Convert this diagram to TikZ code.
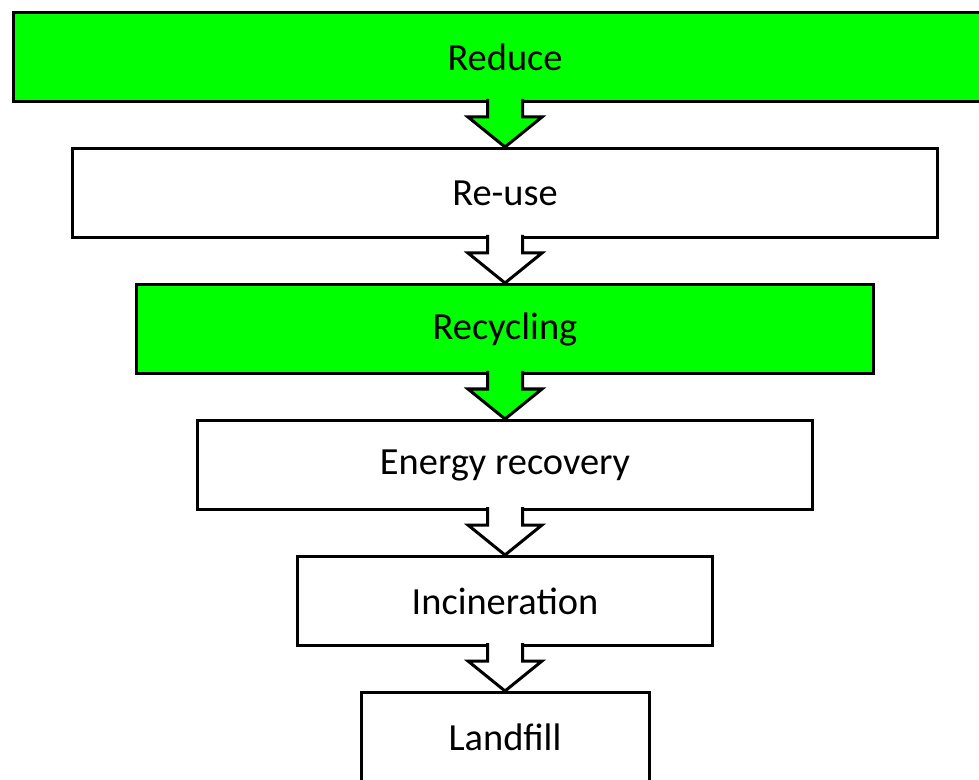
\documentclass[tikz,border=0pt]{standalone}
\usepackage{fontspec}
\setmainfont{Carlito}
\usepackage{xcolor}
\usepackage{tikz}
\usetikzlibrary{positioning,calc}
\definecolor{c1}{HTML}{00FF00}

\begin{document}
\begin{tikzpicture}[x=0.5pt, y=-0.5pt,
        level/.style={draw, line width=1.5pt, minimum height=44.5pt, inner sep=0pt, font=\fontsize{19.2}{23}\selectfont},
        blockarrow/.style={draw, line width=1.5pt, line join=miter},
        node distance=22pt]
            \useasboundingbox (0, 0) rectangle (979, 780);
            \node[level, fill=c1, minimum width=492pt] (reduce) at (505, 57) {Reduce};
            \node[level, fill=white, minimum width=432.5pt, below=of reduce] (reuse) {Re-use};
            \node[level, fill=c1, minimum width=368.5pt, below=of reuse] (recycling) {Recycling};
            \node[level, fill=white, minimum width=307.5pt, below=of recycling] (energy) {Energy recovery};
            \node[level, fill=white, minimum width=207.5pt, below=of energy] (incineration) {Incineration};
            \node[level, fill=white, minimum width=144pt, below=of incineration] (landfill) {Landfill};
            \foreach \from/\to/\col in {reduce/reuse/c1, reuse/recycling/white, recycling/energy/c1, energy/incineration/white, incineration/landfill/white}
                \draw[blockarrow, fill=\col] ($(\from.south)+(-17.5,-4)$) -- ($(\from.south)+(-17.5,14)$) -- ($(\from.south)+(-37,14)$)
                    -- (\to.north) -- ($(\from.south)+(37,14)$) -- ($(\from.south)+(17.5,14)$) -- ($(\from.south)+(17.5,-4)$);
        \end{tikzpicture}
\end{document}
